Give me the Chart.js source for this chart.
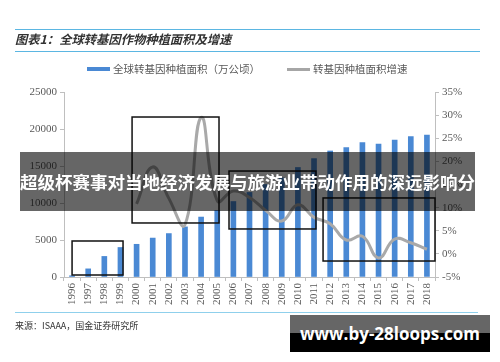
<!DOCTYPE html>
<html>
<head>
<meta charset="utf-8">
<script src="https://cdn.jsdelivr.net/npm/chart.js@4"></script>
<style>
  html, body { margin: 0; padding: 0; background: #fff; }
  #wrap { position: relative; width: 500px; height: 362px; overflow: hidden; font-family: "Noto Sans CJK SC", sans-serif; }
  #chart { position: absolute; left: 0; top: 0; }
  .rule { position: absolute; left: 15px; height: 0; border-top: 1.5px solid #5bb6e2; }
  #title { position: absolute; left: 15px; top: 29px; font-size: 12.3px; font-weight: bold; font-style: italic; color: #333; line-height: 20px; }
  .legend { position: absolute; top: 61px; font-size: 10.5px; color: #595959; line-height: 16px; white-space: nowrap; }
  .legend i { display: inline-block; vertical-align: middle; margin-right: 3px; position: relative; top: -1px; }
  #source { position: absolute; left: 15px; top: 319px; font-size: 9px; color: #333; }
  #banner { position: absolute; left: 20px; top: 152px; width: 455px; height: 59px; background: rgba(0,0,0,0.6);
            color: #fff; font-weight: bold; font-size: 17.5px; line-height: 59px; text-align: center; white-space: nowrap; }
  #mark { position: absolute; left: 290px; top: 315px; width: 200px; height: 37px;
          background: linear-gradient(#666 0, #666 50%, #000 50%, #000 100%);
          color: #fff; font-family: "Open Sans", sans-serif; font-weight: bold; font-size: 17px; line-height: 37px; text-align: center; }
</style>
</head>
<body>
<div id="wrap">
  <canvas id="chart" width="500" height="362"></canvas>
  <div class="rule" style="top:29px;width:465px"></div>
  <div id="title">图表1：全球转基因作物种植面积及增速</div>
  <div class="rule" style="top:51px;width:465px"></div>
  <div class="legend" style="left:87px"><i style="width:23px;height:4px;background:#4a89d4"></i>全球转基因种植面积（万公顷）</div>
  <div class="legend" style="left:287px"><i style="width:23px;height:3px;background:#a6a6a6"></i>转基因种植面积增速</div>
  <div class="rule" style="top:312px;width:463px;border-color:#8fd0ec"></div>
  <div id="source">来源：ISAAA，国金证券研究所</div>
  <div id="banner">超级杯赛事对当地经济发展与旅游业带动作用的深远影响分析</div>
  <div id="mark">www.by-28loops.com</div>
</div>
<script>
// data
const years = ['1996', '1997', '1998', '1999', '2000', '2001', '2002', '2003', '2004', '2005', '2006', '2007',
               '2008', '2009', '2010', '2011', '2012', '2013', '2014', '2015', '2016', '2017', '2018'];
const areaValues = [170, 1100, 2780, 3990, 4420, 5260, 5870, 6770, 8100, 9000, 10200, 11430,
                    12500, 13400, 14800, 16000, 17030, 17500, 18150, 17970, 18510, 18980, 19170];
const growthRates = [null, null, null, null, 10.8, 18.8, 12.0, 6.3, 29.5, 11.5, 13.6, 12.2,
                     9.4, 7.1, 10.6, 7.9, 6.5, 3.0, 3.8, -0.9, 3.2, 2.4, 1.0];
const areaTicks = [0, 5000, 10000, 15000, 20000, 25000];
const rateTicks = [-5, 0, 5, 10, 15, 20, 25, 30, 35];

// highlight frames, in category index / area value units
const frameX0 = [0, 3.72, 9.73, 15.56];
const frameX1 = [3.16, 9.11, 15.12, 22.5];
const frameY0 = [270, 7300, 6490, 2160];
const frameY1 = [4865, 21620, 14320, 10680];

const axisGray = '#bfbfbf';
const tickFont = { family: 'Liberation Serif', size: 11 };

const framesPlugin = {
    id: 'frames',
    afterDatasetsDraw(chart) {
        const { ctx, scales } = chart;
        ctx.save();
        ctx.strokeStyle = '#111';
        ctx.lineWidth = 1.5;
        frameX0.forEach((x0, i) => {
            const l = scales.x.getPixelForValue(x0);
            const r = scales.x.getPixelForValue(frameX1[i]);
            const t = scales.y.getPixelForValue(frameY1[i]);
            const b = scales.y.getPixelForValue(frameY0[i]);
            ctx.strokeRect(l, t, r - l, b - t);
        });
        ctx.restore();
    }
};

new Chart(document.getElementById('chart'), {
    data: {
        labels: years,
        datasets: [{
            type: 'line',
            label: '转基因种植面积增速',
            data: growthRates,
            yAxisID: 'y1',
            borderColor: '#a9a9a9',
            borderWidth: 3,
            pointRadius: 0,
            tension: 0.45,
            fill: false
        }, {
            type: 'bar',
            label: '全球转基因种植面积（万公顷）',
            data: areaValues,
            yAxisID: 'y',
            backgroundColor: '#4a89d4',
            barThickness: 5
        }]
    },
    options: {
        responsive: false,
        animation: false,
        layout: { padding: { top: 92, left: 0, right: 0, bottom: 0 } },
        plugins: { legend: { display: false }, tooltip: { enabled: false } },
        scales: {
            x: {
                afterFit(s) { s.height = 85; },
                grid: { display: true, drawOnChartArea: false, offset: true, tickLength: 4, color: axisGray },
                border: { color: axisGray, width: 1 },
                ticks: { font: tickFont, color: '#595959', minRotation: 90, maxRotation: 90, autoSkip: false, padding: 2 }
            },
            y: {
                position: 'left',
                min: 0, max: 25000,
                afterFit(s) { s.width = 64; },
                afterBuildTicks(s) { s.ticks = areaTicks.map(v => ({ value: v })); },
                grid: { drawOnChartArea: false, tickLength: 4, color: axisGray },
                border: { color: axisGray, width: 1 },
                ticks: { font: tickFont, color: '#595959', padding: 3, callback: v => String(v) }
            },
            y1: {
                position: 'right',
                min: -5, max: 35,
                afterFit(s) { s.width = 65; },
                afterBuildTicks(s) { s.ticks = rateTicks.map(v => ({ value: v })); },
                grid: { drawOnChartArea: false, tickLength: 4, color: axisGray },
                border: { color: axisGray, width: 1 },
                ticks: { font: tickFont, color: '#595959', padding: 3, callback: v => v + '%' }
            }
        }
    },
    plugins: [framesPlugin]
});
</script>
</body>
</html>
